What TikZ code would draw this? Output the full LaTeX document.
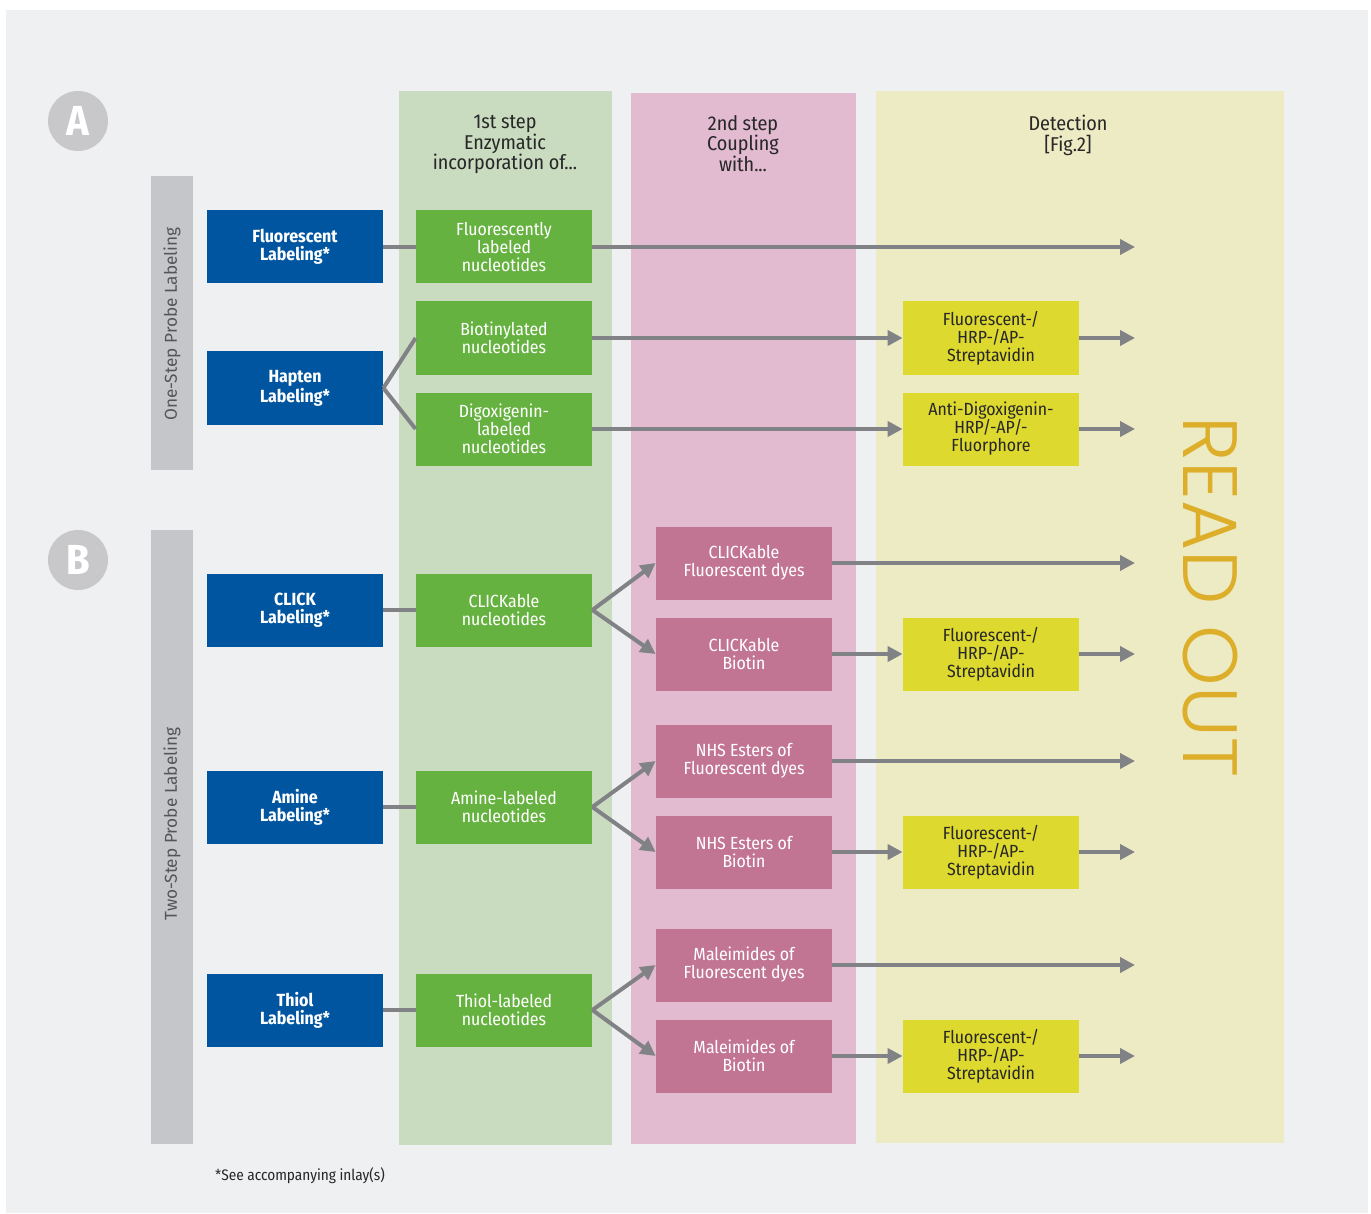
\documentclass[tikz,border=0pt]{standalone}
\usepackage{fontspec}
\IfFontExistsTF{Fira Sans Condensed}{\setmainfont{Fira Sans Condensed}}{\setmainfont{Fira Sans}}
\newfontfamily\sidefont{Fira Sans}
\IfFontExistsTF{Poppins Light}{\newfontfamily\readfont{Poppins Light}}{\newfontfamily\readfont{Poppins}}
\usepackage{tikz}
\usetikzlibrary{arrows.meta, positioning, calc}

\definecolor{pagegray}{RGB}{239,240,242}
\definecolor{circgray}{RGB}{200,200,202}
\definecolor{bargray}{RGB}{197,198,201}
\definecolor{sidetext}{RGB}{85,85,88}
\definecolor{colgreen}{RGB}{202,220,192}
\definecolor{colpink}{RGB}{226,187,209}
\definecolor{colyellow}{RGB}{237,235,195}
\definecolor{probeblue}{RGB}{0,85,160}
\definecolor{nucgreen}{RGB}{102,178,64}
\definecolor{couplepink}{RGB}{194,117,146}
\definecolor{detyellow}{RGB}{222,217,46}
\definecolor{linkgray}{RGB}{128,130,133}
\definecolor{readgold}{RGB}{221,174,42}
\definecolor{headtext}{RGB}{40,40,40}

\tikzstyle{box} = [minimum width=88pt, minimum height=36.5pt, inner sep=0pt, align=center, font=\fontsize{8.8}{9}\selectfont]
\tikzstyle{probe} = [box, fill=probeblue, text=white, font=\bfseries\fontsize{8.8}{9}\selectfont]
\tikzstyle{nuc} = [box, fill=nucgreen, text=white]
\tikzstyle{couple} = [box, fill=couplepink, text=white]
\tikzstyle{detect} = [box, fill=detyellow, text=headtext]
\tikzstyle{head} = [align=center, text=headtext, font=\fontsize{10}{10.3}\selectfont, anchor=north]
\tikzstyle{link} = [line width=2pt, linkgray]
\tikzstyle{arrow} = [link, -{Triangle[length=7.5pt,width=7.5pt]}]

\begin{document}
\begin{tikzpicture}[x=0.5pt, y=-0.5pt]
\useasboundingbox (0,0) rectangle (1371,1214);
\fill[white] (0,0) rectangle (1371,1214);
\fill[pagegray] (6,10) rectangle (1368,1213);

% Column backgrounds
\fill[colgreen] (399,91) rectangle (612,1145);
\fill[colpink] (631,93) rectangle (856,1144);
\fill[colyellow] (876,91) rectangle (1284,1143);

% Side bars A and B
\fill[bargray] (151,176) rectangle (193,470);
\fill[bargray] (151,530) rectangle (193,1144);
\node[rotate=90, text=sidetext, font=\sidefont\fontsize{8.6}{10}\selectfont] (oneLbl) at (172,324) {One-Step Probe Labeling};
\node[rotate=90, text=sidetext, font=\sidefont\fontsize{8.6}{10}\selectfont] (twoLbl) at (172,824) {Two-Step Probe Labeling};
\node[circle, fill=circgray, minimum size=30pt, inner sep=0pt, text=white, font=\bfseries\fontsize{21}{21}\selectfont] (circA) at (78,121) {A};
\node[circle, fill=circgray, minimum size=30pt, inner sep=0pt, text=white, font=\bfseries\fontsize{21}{21}\selectfont] (circB) at (78,560) {B};

% Column headers
\node[head] (hdStep1) at (505,108) {1st step\\Enzymatic\\incorporation of...};
\node[head] (hdStep2) at (743,108) {2nd step\\Coupling\\with...};
\node[head] (hdDetect) at (1068,108) {Detection\\{[Fig.2]}};

% Probe labeling boxes
\node[probe] (prFluor) at (295,247) {Fluorescent\\Labeling*};
\node[probe] (prHapten) at (295,388) {Hapten\\Labeling*};
\node[probe] (prClick) at (295,610) {CLICK\\Labeling*};
\node[probe] (prAmine) at (295,807) {Amine\\Labeling*};
\node[probe] (prThiol) at (295,1010) {Thiol\\Labeling*};

% 1st step: nucleotides
\node[nuc] (nuFluor) at (504,247) {Fluorescently\\labeled\\nucleotides};
\node[nuc] (nuBio) at (504,338) {Biotinylated\\nucleotides};
\node[nuc] (nuDig) at (504,429) {Digoxigenin-\\labeled\\nucleotides};
\node[nuc] (nuClick) at (504,610) {CLICKable\\nucleotides};
\node[nuc] (nuAmine) at (504,807) {Amine-labeled\\nucleotides};
\node[nuc] (nuThiol) at (504,1010) {Thiol-labeled\\nucleotides};

% 2nd step: coupling
\node[couple] (cpClickF) at (744,563) {CLICKable\\Fluorescent dyes};
\node[couple] (cpClickB) at (744,654) {CLICKable\\Biotin};
\node[couple] (cpNhsF) at (744,761) {NHS Esters of\\Fluorescent dyes};
\node[couple] (cpNhsB) at (744,852) {NHS Esters of\\Biotin};
\node[couple] (cpMalF) at (744,965) {Maleimides of\\Fluorescent dyes};
\node[couple] (cpMalB) at (744,1056) {Maleimides of\\Biotin};

% Detection
\node[detect] (dtBio) at (991,338) {Fluorescent-/\\HRP-/AP-\\Streptavidin};
\node[detect] (dtDig) at (991,429) {Anti-Digoxigenin-\\HRP/-AP/-\\Fluorphore};
\node[detect] (dtClick) at (991,654) {Fluorescent-/\\HRP-/AP-\\Streptavidin};
\node[detect] (dtNhs) at (991,852) {Fluorescent-/\\HRP-/AP-\\Streptavidin};
\node[detect] (dtMal) at (991,1056) {Fluorescent-/\\HRP-/AP-\\Streptavidin};

% Read out ends
\foreach \n/\y in {a/247, b/338, c/429, d/563, e/654, f/761, g/852, h/965, i/1056} {
    \coordinate (end\n) at (1135,\y);
}
\node[rotate=-90, text=readgold, font=\readfont\fontsize{38.5}{40}\selectfont] (readOut) at (1210,597) {READ OUT};

% Connectors: probe -> nucleotide
\draw[link] (prFluor) -- (nuFluor);
\draw[link] (prHapten.east) -- (nuBio.west);
\draw[link] (prHapten.east) -- (nuDig.west);
\draw[link] (prClick) -- (nuClick);
\draw[link] (prAmine) -- (nuAmine);
\draw[link] (prThiol) -- (nuThiol);

% Connectors: nucleotide -> coupling / detection
\draw[arrow] (nuFluor.east) -- (enda);
\draw[arrow] (nuBio.east) -- (dtBio.west);
\draw[arrow] (nuDig.east) -- (dtDig.west);
\foreach \src/\up/\dn in {nuClick/cpClickF/cpClickB, nuAmine/cpNhsF/cpNhsB, nuThiol/cpMalF/cpMalB} {
    \draw[arrow] (\src.east) -- (\up.west);
    \draw[arrow] (\src.east) -- (\dn.west);
}

% Connectors: coupling -> detection -> read out
\draw[arrow] (cpClickF.east) -- (endd);
\draw[arrow] (cpNhsF.east) -- (endf);
\draw[arrow] (cpMalF.east) -- (endh);
\draw[arrow] (cpClickB.east) -- (dtClick.west);
\draw[arrow] (cpNhsB.east) -- (dtNhs.west);
\draw[arrow] (cpMalB.east) -- (dtMal.west);
\draw[arrow] (dtBio.east) -- (endb);
\draw[arrow] (dtDig.east) -- (endc);
\draw[arrow] (dtClick.east) -- (ende);
\draw[arrow] (dtNhs.east) -- (endg);
\draw[arrow] (dtMal.east) -- (endi);

% Footnote
\node[anchor=west, text=headtext, font=\fontsize{7.6}{8}\selectfont] (footNote) at (208,1176) {*See accompanying inlay(s)};
\end{tikzpicture}
\end{document}
